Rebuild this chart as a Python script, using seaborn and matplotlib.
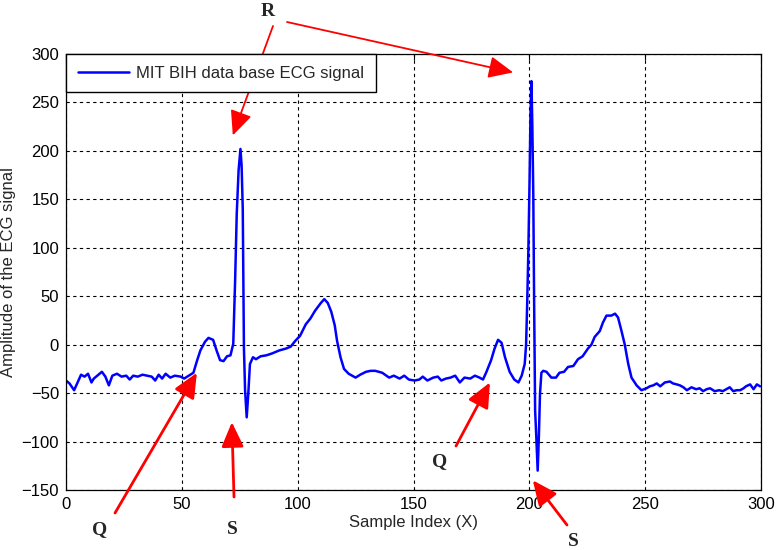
import numpy as np
import pandas as pd
import seaborn as sns
import matplotlib.pyplot as plt

# ECG trace (sample index, amplitude)
sample_idx = [
    0, 1.5, 3.5, 5, 6.5, 8, 9.5, 11, 12, 13.5,
    15.5, 17, 18.5, 20, 22, 24, 26, 27.5, 29, 31,
    33, 35, 37, 38.5, 40, 41.5, 43, 45, 47, 49.5,
    51, 53, 55, 56.5, 58, 60, 61.5, 63.5, 65, 66.5,
    68, 69.5, 71, 72.2, 73, 73.7, 74.5, 75.3, 75.8, 76.3,
    76.8, 77.3, 78, 78.7, 79.4, 80.7, 82, 84, 86.5, 89,
    92, 95, 97, 99, 101, 103.5, 105.5, 107.5, 110, 111.5,
    113, 114.5, 116, 117, 118.5, 120, 122, 125, 127, 129.5,
    131.5, 133.5, 136.5, 139.5, 141.5, 144, 146, 148, 150.5, 152.5,
    154, 156, 158.5, 160.5, 162, 164, 166, 168, 170, 172,
    174.5, 176.5, 178.5, 180, 181.5, 183.5, 185, 186.5, 188, 189.5,
    191.5, 193.5, 195.3, 196.7, 198, 198.6, 199.1, 199.6, 200.1, 200.5,
    200.9, 201.3, 201.7, 202.1, 202.5, 203, 203.6, 204.1, 204.6, 205.2,
    206, 207.4, 209.5, 211.5, 213, 215, 216.7, 219, 221, 223,
    225.3, 226.8, 228.2, 230.4, 231.8, 233.3, 235.4, 237, 238.3, 239.8,
    241.2, 242.7, 244.1, 246.3, 248.4, 250.6, 252, 253.5, 255, 256.5,
    258.5, 260.7, 262, 263.6, 265, 266.5, 268, 270, 272, 273.5,
    275, 276.5, 278, 280, 282, 283.5, 285, 286.5, 288, 289.5,
    291, 292.5, 293.5, 295.3, 296.8, 298.2, 299.6,
]
amplitude = [
    -37, -40, -47, -39, -31, -33, -30, -39, -35, -32,
    -28, -33, -42, -32, -30, -33, -32, -36, -32, -33,
    -31, -32, -33, -37, -31, -35, -30, -34, -32, -33,
    -35, -32, -29, -17, -6, 3, 7, 5, -6, -16,
    -17, -12, -11, 1, 66, 135, 180, 202, 185, 140,
    -3, -47, -75, -50, -20, -13, -15, -12, -11, -9,
    -6, -4, -2, 4, 9, 21, 27, 35, 43, 47,
    43, 34, 20, 4, -13, -25, -30, -34, -31, -28,
    -27, -27, -29, -34, -32, -35, -32, -36, -37, -36,
    -33, -37, -34, -33, -37, -35, -34, -32, -39, -34,
    -35, -32, -34, -36, -28, -16, -4, 5, 2, -13,
    -28, -36, -39, -32, -20, 0, 45, 100, 170, 238,
    272, 225, 156, 35, -68, -95, -130, -96, -51, -29,
    -27, -28, -34, -34, -29, -28, -23, -22, -15, -12,
    -4, 0, 8, 14, 23, 30, 30, 32, 28, 14,
    0, -20, -34, -42, -47, -45, -43, -42, -40, -43,
    -39, -38, -40, -41, -42, -44, -47, -44, -46, -45,
    -48, -46, -45, -48, -47, -48, -46, -44, -48, -47,
    -47, -45, -43, -41, -46, -41, -43,
]

x_ticks = [0, 50, 100, 150, 200, 250, 300]
y_ticks = [-150, -100, -50, 0, 50, 100, 150, 200, 250, 300]

# wave labels: (text, text position in figure pixels from top-left, arrow start, arrow tip in data)
labels = ["R", "R", "Q", "S", "Q", "S"]
label_pos = [(268, 12), None, (100, 530), (232, 530), (440, 462), (573, 541)]
arrow_start = [(273, 26), (287, 22), (115, 513), (234, 497), (456, 446), (567, 525)]
arrow_tip = [(72, 216), (193, 281), (56.5, -29), (71.6, -80), (183, -39), (201.5, -140)]

sns.set_theme(style="white")
plt.rcParams["font.family"] = ["Liberation Sans", "DejaVu Sans"]

W, H = 777, 550
fig, ax = plt.subplots(figsize=(W / 100, H / 100), dpi=100)
fig.subplots_adjust(left=66 / W, right=761 / W, top=1 - 54 / H, bottom=1 - 490 / H)

df = pd.DataFrame({"Sample": sample_idx, "Amplitude": amplitude})
sns.lineplot(data=df, x="Sample", y="Amplitude", ax=ax, color="#0000ff",
             linewidth=1.8, sort=False, estimator=None,
             label="MIT BIH data base ECG signal")

ax.set_xlim(0, 300)
ax.set_ylim(-150, 300)
ax.set_xticks(x_ticks)
ax.set_yticks(y_ticks)
ax.tick_params(direction="in", length=4, width=0.8, top=True, right=True,
               labelsize=12, colors="black", pad=5)
ax.grid(True, color="black", linestyle=(0, (3, 3)), linewidth=0.8)
for s in ax.spines.values():
    s.set_color("black")
    s.set_linewidth(0.9)
ax.set_xlabel("Sample Index (X)", fontsize=12, labelpad=2)
ax.set_ylabel("Amplitude of the ECG signal", fontsize=12, labelpad=4)

leg = ax.legend(loc="upper left", borderaxespad=0, fancybox=False, fontsize=12,
                handlelength=3.1, handletextpad=0.4, borderpad=0.7,
                framealpha=1)
leg.get_frame().set_edgecolor("black")
leg.get_frame().set_linewidth(1.0)

for i, lab in enumerate(labels):
    sx, sy = arrow_start[i]
    lw = 1.3 if lab == "R" else 2.0
    ax.annotate("", xy=arrow_tip[i], xycoords="data",
                xytext=(sx, H - sy), textcoords="figure pixels",
                annotation_clip=False,
                arrowprops=dict(arrowstyle="-|>,head_length=1.0,head_width=0.45",
                                color="red", lw=lw, mutation_scale=15,
                                shrinkA=0, shrinkB=0))
    if label_pos[i] is not None:
        tx, ty = label_pos[i]
        fig.text(tx / W, 1 - ty / H, lab, ha="center", va="center",
                 fontsize=14, fontweight="bold", family="Liberation Serif")

fig.savefig("out.png", dpi=100)
